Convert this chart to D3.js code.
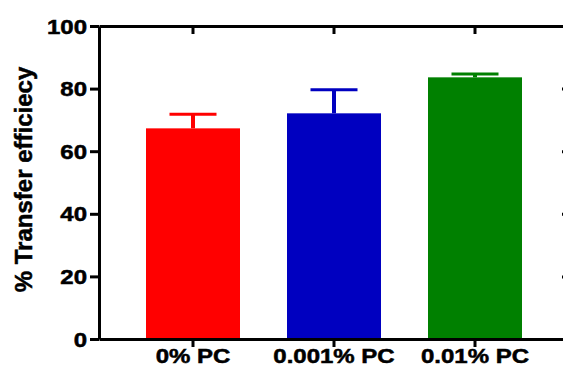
<!DOCTYPE html>
<html>
<head>
<meta charset="utf-8">
<script src="https://cdn.jsdelivr.net/npm/d3@7"></script>
<style>
  html, body { margin: 0; padding: 0; background: #fff; }
  svg { display: block; }
  text { font-family: "Liberation Sans", Arial, sans-serif; font-weight: bold; fill: #000; stroke: #000; stroke-width: 0.5px; }
</style>
</head>
<body>
<svg id="chart" width="563" height="374"></svg>
<script>
const categories = ["0% PC", "0.001% PC", "0.01% PC"];
const means = [67.3, 72.1, 83.6];
const errors = [4.5, 7.5, 1.1];
const colors = ["#FF0000", "#0000C0", "#008000"];
const yTicks = [0, 20, 40, 60, 80, 100];
const yTitle = "% Transfer efficiecy";

const svg = d3.select("#chart");
const mLeft = 99, mRight = 569, mTop = 26, mBottom = 339;

const x = d3.scaleBand().domain(categories).range([mLeft, mRight]).paddingInner(1/3).paddingOuter(1/3);
const y = d3.scaleLinear().domain([0, 100]).range([mBottom, mTop]);

const data = categories.map((c, i) => ({ c, m: means[i], e: errors[i], col: colors[i] }));

// bars
svg.selectAll("rect.bar").data(data).enter().append("rect")
  .attr("class", "bar")
  .attr("x", d => x(d.c))
  .attr("width", x.bandwidth())
  .attr("y", d => y(d.m))
  .attr("height", d => y(0) - y(d.m))
  .attr("fill", d => d.col);

// error bars (upper only)
const eb = svg.selectAll("g.err").data(data).enter().append("g").attr("class", "err");
eb.append("line")
  .attr("x1", d => x(d.c) + x.bandwidth() / 2)
  .attr("x2", d => x(d.c) + x.bandwidth() / 2)
  .attr("y1", d => y(d.m))
  .attr("y2", d => y(d.m + d.e))
  .attr("stroke", d => d.col).attr("stroke-width", 4);
eb.append("line")
  .attr("x1", d => x(d.c) + x.bandwidth() / 4)
  .attr("x2", d => x(d.c) + x.bandwidth() * 3 / 4)
  .attr("y1", d => y(d.m + d.e))
  .attr("y2", d => y(d.m + d.e))
  .attr("stroke", d => d.col).attr("stroke-width", 3);

function styleAxis(g) {
  g.selectAll("path.domain").attr("stroke", "#000").attr("stroke-width", 3);
  g.selectAll(".tick line").attr("stroke", "#000").attr("stroke-width", 3);
}

// top mirror axis
const gTop = svg.append("g").attr("transform", `translate(0,${mTop})`)
  .call(d3.axisTop(x).tickSize(-8).tickSizeOuter(0).tickFormat(""));
styleAxis(gTop);

// right mirror axis (mostly outside the view)
const gRight = svg.append("g").attr("transform", `translate(${mRight + 2},0)`)
  .call(d3.axisRight(y).tickValues(yTicks).tickSize(-9).tickSizeOuter(0).tickFormat(""));
styleAxis(gRight);

// left axis
const gLeft = svg.append("g").attr("transform", `translate(${mLeft},0)`)
  .call(d3.axisLeft(y).tickValues(yTicks).tickSize(9).tickSizeOuter(0));
styleAxis(gLeft);
gLeft.selectAll(".tick text")
  .attr("font-size", 20)
  .attr("x", -10)
  .attr("dy", "0.35em")
  .attr("transform", "scale(1.2,1)");

// bottom axis
const gBottom = svg.append("g").attr("transform", `translate(0,${mBottom})`)
  .call(d3.axisBottom(x).tickSize(8).tickSizeOuter(0));
styleAxis(gBottom);
gBottom.selectAll(".tick text")
  .attr("font-size", 20)
  .attr("y", 10)
  .attr("dy", "0.71em")
  .attr("transform", "scale(1.2,1)");

// y title
svg.append("text")
  .attr("transform", `translate(32,${(mTop + mBottom) / 2 - 3}) rotate(-90)`)
  .attr("text-anchor", "middle")
  .attr("font-size", 24)
  .text(yTitle);
</script>
</body>
</html>
